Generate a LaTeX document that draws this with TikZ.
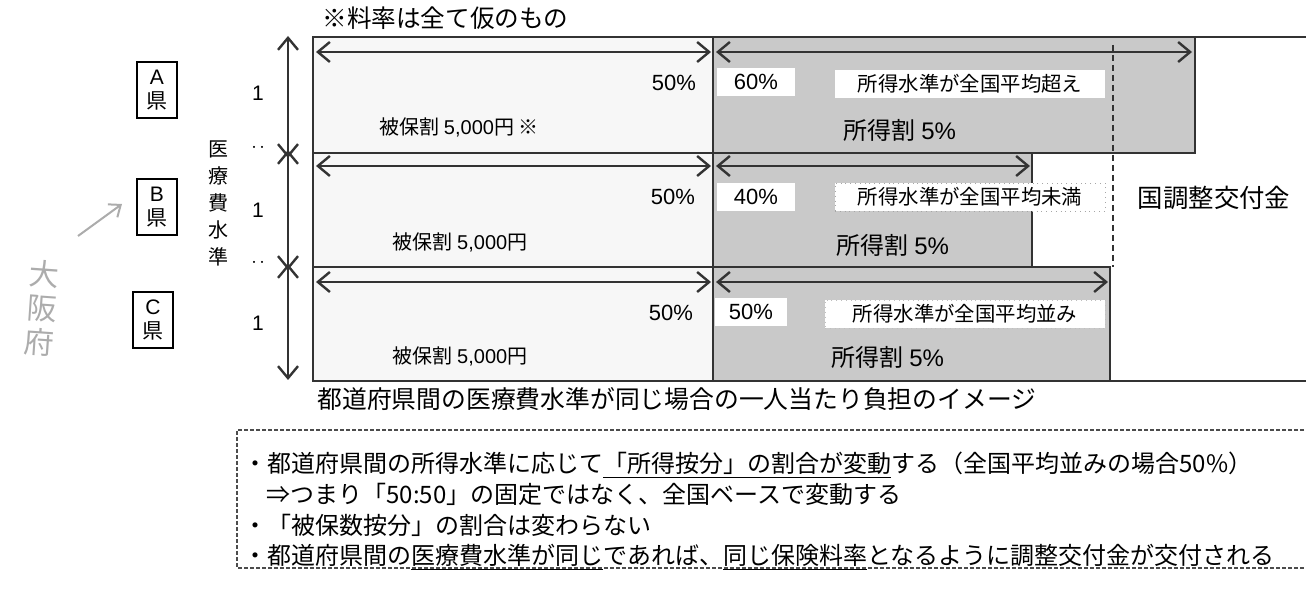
\documentclass[tikz,border=0pt]{standalone}
\usepackage{fontspec}
\setmainfont{Noto Sans CJK JP}
\newfontfamily\arialfont{Liberation Sans}
\usepackage{tikz}
\usetikzlibrary{arrows.meta}
\newcommand{\fs}[1]{\fontsize{#1}{#1}\selectfont}

\begin{document}
\begin{tikzpicture}[x=0.5pt, y=-0.5pt]
	\tikzstyle{every node} = [rectangle, inner sep=0pt]
	\tikzstyle{boxline} = [line width=1.4pt, black!80]
	\tikzstyle{gauge} = [line width=1.2pt, black!80, <->, >={Straight Barb[length=6pt,width=10pt,line width=1.2pt]}]
	\tikzstyle{pref} = [draw, line width=0.8pt, minimum width=20pt, minimum height=28pt, align=center, font=\fontsize{10.5}{12}\selectfont]
	\tikzstyle{pct} = [font=\arialfont\fs{11}]
	\tikzstyle{whitebox} = [fill=white, minimum height=14pt]
	\tikzstyle{levelbox} = [whitebox, minimum width=135pt, font=\fs{10.2}]
	\tikzstyle{note} = [anchor=west, font=\fs{12}]
	\useasboundingbox (0,0) rectangle (1306,592);
	% shading
	\fill[gray!6]  (313,37) rectangle (713,381);
	\fill[gray!42] (713,37) rectangle (1195,153);
	\fill[gray!42] (713,153) rectangle (1032,267);
	\fill[gray!42] (713,267) rectangle (1110,381);
	% frame
	\draw[boxline] (1306,37) -- (313,37) -- (313,381) -- (1306,381);
	\draw[boxline] (713,37) -- (713,381);
	\draw[boxline] (313,153) -- (1195,153) -- (1195,37);
	\draw[boxline] (1032,153) -- (1032,267);
	\draw[boxline] (313,267) -- (1110,267) -- (1110,381);
	\draw[line width=0.9pt, black!80, dash pattern=on 3pt off 2pt] (1113,45) -- (1113,267);
	% arrows
	\coordinate (Aw) at (316,52);  \coordinate (Aml) at (711,52);
	\coordinate (Amr) at (716,52); \coordinate (Ae) at (1192,52);
	\coordinate (Bw) at (316,166);  \coordinate (Bml) at (711,166);
	\coordinate (Bmr) at (716,166); \coordinate (Be) at (1030,166);
	\coordinate (Cw) at (316,282);  \coordinate (Cml) at (711,282);
	\coordinate (Cmr) at (716,282); \coordinate (Ce) at (1108,282);
	\draw[gauge] (Aw) -- (Aml);
	\draw[gauge] (Amr) -- (Ae);
	\draw[gauge] (Bw) -- (Bml);
	\draw[gauge] (Bmr) -- (Be);
	\draw[gauge] (Cw) -- (Cml);
	\draw[gauge] (Cmr) -- (Ce);
	\coordinate (vA1) at (288,36);  \coordinate (vA2) at (288,158);
	\coordinate (vB1) at (288,150); \coordinate (vB2) at (288,270);
	\coordinate (vC1) at (288,264); \coordinate (vC2) at (288,380);
	\draw[gauge] (vA1) -- (vA2);
	\draw[gauge] (vB1) -- (vB2);
	\draw[gauge] (vC1) -- (vC2);
	% left labels
	\node[pref] (prefA) at (157,90)  {{\arialfont A}\\県};
	\node[pref] (prefB) at (157,207) {{\arialfont B}\\県};
	\node[pref] (prefC) at (153,320) {{\arialfont C}\\県};
	\node[font=\arialfont\fs{10.5}] (oneA) at (258,93)  {1};
	\node[font=\arialfont\fs{10.5}] (oneB) at (258,210) {1};
	\node[font=\arialfont\fs{10.5}] (oneC) at (258,323) {1};
	\node[font=\fs{8}] (dotsA) at (258,150) {‥};
	\node[font=\fs{8}] (dotsB) at (258,265) {‥};
	\node[align=center, font=\fontsize{10}{13.5}\selectfont] (level) at (218,203) {医\\療\\費\\水\\準};
	% handwriting
	\node[gray!65, align=center, rotate=-4, font=\fontsize{15}{17}\selectfont] (osaka) at (42,308) {大\\阪\\府};
	\coordinate (memo1) at (78,236);
	\coordinate (memo2) at (122,204);
	\draw[gray!65, line width=1pt, ->, >={Straight Barb[length=5pt,width=8pt]}] (memo1) -- (memo2);
	% row A
	\node[pct] (pA) at (674,83) {50\%};
	\node[font=\fs{10}] (hoA) at (459,127) {被保割 {\arialfont 5,000}円 ※};
	\node[whitebox, pct, minimum width=39pt] (rA) at (756,82) {60\%};
	\node[levelbox] (lvA) at (970,84) {所得水準が全国平均超え};
	\node[font=\fs{12}] (incA) at (900,130) {所得割 {\arialfont 5\%}};
	% row B
	\node[pct] (pB) at (673,197) {50\%};
	\node[font=\fs{10}] (hoB) at (460,242) {被保割 {\arialfont 5,000}円};
	\node[whitebox, pct, minimum width=39pt] (rB) at (756,197) {40\%};
	\node[levelbox, draw=gray!70, dotted] (lvB) at (970,197) {所得水準が全国平均未満};
	\node[font=\fs{12}] (incB) at (893,245) {所得割 {\arialfont 5\%}};
	% row C
	\node[pct] (pC) at (671,313) {50\%};
	\node[font=\fs{10}] (hoC) at (460,356) {被保割 {\arialfont 5,000}円};
	\node[whitebox, pct, minimum width=36pt] (rC) at (751,312) {50\%};
	\node[levelbox, draw=gray!50, dotted, minimum width=140pt] (lvC) at (965,314) {所得水準が全国平均並み};
	\node[font=\fs{12}] (incC) at (888,357) {所得割 {\arialfont 5\%}};
	% right label
	\node[font=\fs{12.7}] (grant) at (1214,198) {国調整交付金};
	% captions
	\node[anchor=west, font=\fs{12.3}] (memoTop) at (322,18) {※料率は全て仮のもの};
	\node[anchor=west, font=\fs{12.4}] (caption) at (317,399) {都道府県間の医療費水準が同じ場合の一人当たり負担のイメージ};
	% notes
	\draw[line width=0.6pt, black!70, dash pattern=on 2pt off 1pt] (1310,430) -- (237,430) -- (237,568) -- (1310,568);
	\node[note] (note1) at (243,465) {・都道府県間の所得水準に応じて\underline{「所得按分」の割合が変動}する（全国平均並みの場合50\%）};
	\node[note] (note2) at (266,494) {⇒つまり「50:50」の固定ではなく、全国ベースで変動する};
	\node[note] (note3) at (243,525) {・「被保数按分」の割合は変わらない};
	\node[note] (note4) at (243,557) {・都道府県間の\underline{医療費水準が同じ}であれば、\underline{同じ保険料率}となるように調整交付金が交付される};
\end{tikzpicture}
\end{document}
